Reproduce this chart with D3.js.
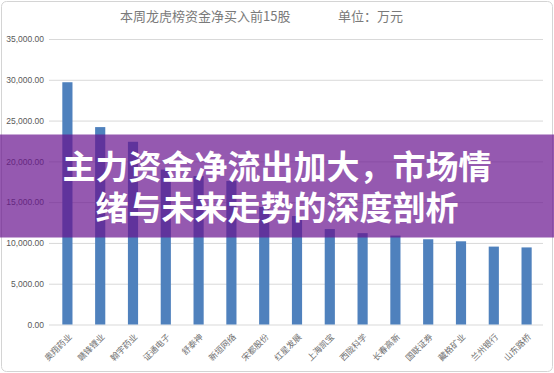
<!DOCTYPE html>
<html>
<head>
<meta charset="utf-8">
<script src="https://cdn.jsdelivr.net/npm/d3@7"></script>
<style>
  body { margin: 0; background: #fff; }
  svg { display: block; }
</style>
</head>
<body>
<div id="chart"></div>
<script>
const stocks = ['奥翔药业', '赣锋锂业', '翰宇药业', '证通电子', '舒泰神', '新垣网络', '宋都股份',
                '红星发展', '上海凯宝', '西陇科学', '长春高新', '国联证券', '藏格矿业', '兰州银行', '山东路桥'];
const netBuy = [29700, 24200, 22400, 19000, 18200, 17600, 14400,
                13300, 11700, 11200, 10900, 10450, 10200, 9550, 9450];
const yTicks = [0, 5000, 10000, 15000, 20000, 25000, 30000, 35000];
const chartTitle = '本周龙虎榜资金净买入前15股';
const unitLabel = '单位：万元';
const headline = ['主力资金净流出加大，市场情', '绪与未来走势的深度剖析'];

const width = 554, height = 373;
const plot = { left: 49, right: 543, top: 39, bottom: 324.5 };

const svg = d3.select('#chart')
  .append('svg')
  .attr('width', width)
  .attr('height', height);

// frame
svg.append('rect')
  .attr('x', 1.5).attr('y', 1.5)
  .attr('width', width - 3).attr('height', height - 3)
  .attr('rx', 5)
  .attr('fill', '#fff')
  .attr('stroke', '#d4d4d4');

const x = d3.scaleBand()
  .domain(stocks)
  .range([51, plot.right])
  .paddingInner(0.69)
  .paddingOuter(0.345);

const y = d3.scaleLinear()
  .domain([0, 35000])
  .range([plot.bottom, plot.top]);

// y axis + grid
const yAxis = svg.append('g')
  .attr('transform', `translate(${plot.left},0)`)
  .call(d3.axisLeft(y)
    .tickValues(yTicks)
    .tickSize(-(plot.right - plot.left))
    .tickPadding(5)
    .tickFormat(d3.format(',.2f')));

yAxis.select('.domain').remove();
yAxis.selectAll('line').attr('stroke', '#d9d9d9');
yAxis.selectAll('text')
  .attr('fill', '#595959')
  .style('font-family', '"Liberation Sans", Arial, sans-serif')
  .style('font-size', '8.5px');

// bars
svg.selectAll('.bar')
  .data(netBuy)
  .enter()
  .append('rect')
  .attr('class', 'bar')
  .attr('x', (d, i) => x(stocks[i]))
  .attr('y', (d) => y(d))
  .attr('width', x.bandwidth())
  .attr('height', (d) => y(0) - y(d))
  .attr('fill', '#4f81bd');

// category labels
svg.selectAll('.cat')
  .data(stocks)
  .enter()
  .append('text')
  .attr('class', 'cat')
  .attr('transform', (d) => `translate(${x(d) + x.bandwidth() / 2 + 5},${plot.bottom + 13}) rotate(-45)`)
  .attr('text-anchor', 'end')
  .attr('fill', '#707070')
  .style('font-family', '"Noto Sans CJK SC", sans-serif')
  .style('font-size', '8.5px')
  .text((d) => d);

// title
svg.append('text')
  .attr('x', 120).attr('y', 20.5)
  .attr('fill', '#7a7a7a')
  .style('font-family', '"Noto Sans CJK SC", sans-serif')
  .style('font-size', '13px')
  .text(chartTitle);

svg.append('text')
  .attr('x', 338).attr('y', 20.5)
  .attr('fill', '#7a7a7a')
  .style('font-family', '"Noto Sans CJK SC", sans-serif')
  .style('font-size', '13px')
  .text(unitLabel);

// headline banner
svg.append('rect')
  .attr('x', 0).attr('y', 134.5)
  .attr('width', width).attr('height', 103)
  .attr('fill', 'rgb(104,18,142)')
  .attr('fill-opacity', 0.7);

svg.selectAll('.headline')
  .data(headline)
  .enter()
  .append('text')
  .attr('class', 'headline')
  .attr('x', width / 2)
  .attr('y', (d, i) => 179 + i * 41)
  .attr('text-anchor', 'middle')
  .attr('fill', '#fff')
  .style('font-family', '"Noto Sans CJK SC", sans-serif')
  .style('font-weight', 700)
  .style('font-size', '33px')
  .text((d) => d);
</script>
</body>
</html>
